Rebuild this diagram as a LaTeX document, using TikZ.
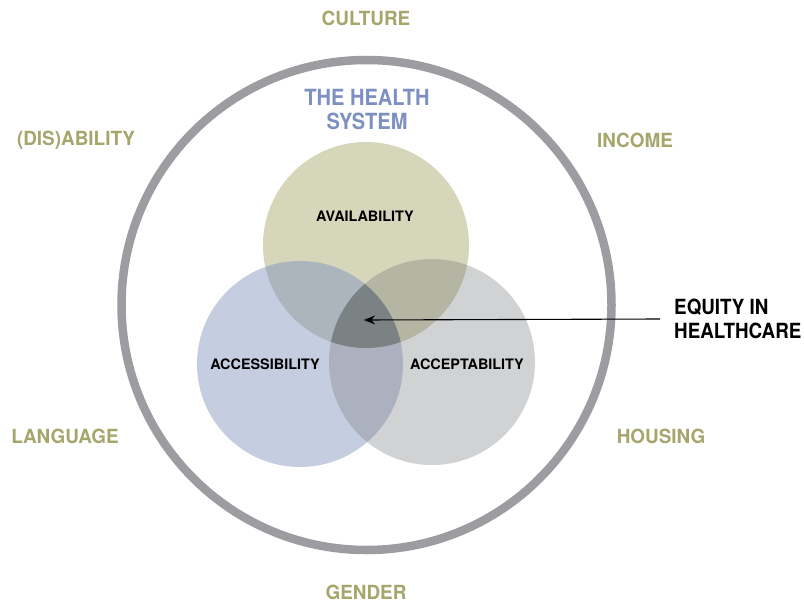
\documentclass[tikz,border=0pt]{standalone}
\usepackage{fontspec}
\setmainfont{TeX Gyre Heros}
\newfontfamily\condfont{TeX Gyre Heros}[FakeStretch=0.9]
\newfontfamily\semifont{TeX Gyre Heros}[FakeStretch=0.97]
\usetikzlibrary{arrows.meta}
\definecolor{olivetxt}{HTML}{A4A66B}
\definecolor{bluetxt}{HTML}{7D90C2}
\definecolor{ringcol}{HTML}{9C9CA1}
\definecolor{availcol}{HTML}{D6D6BA}
\definecolor{accesscol}{HTML}{C5CDE1}
\definecolor{acceptcol}{HTML}{D1D2D4}
\definecolor{avacc}{HTML}{ADB5BC}
\definecolor{avacp}{HTML}{B5B5A3}
\definecolor{acacp}{HTML}{ACB1BF}
\definecolor{triple}{HTML}{7A8283}
\tikzset{
  factor/.style={text=olivetxt, font=\semifont\fontsize{19.5}{22}\selectfont\bfseries, inner sep=0pt},
  inlabel/.style={text=black, font=\fontsize{14.4}{17}\selectfont\bfseries, inner sep=0pt},
  titlelabel/.style={text=bluetxt, font=\condfont\fontsize{22.3}{24}\selectfont\bfseries, align=center, inner sep=0pt},
  equitylabel/.style={text=black, font=\condfont\fontsize{20.9}{24}\selectfont\bfseries, align=left, inner sep=0pt},
  ringline/.style={draw=ringcol, line width=8.5pt},
  pointer/.style={draw=black, line width=1.1pt, -{Stealth[length=11pt,width=9pt]}}
}
\begin{document}
\begin{tikzpicture}[x=1pt,y=-1pt]
\useasboundingbox (0,0) rectangle (804,602);
% outer ring
\node[ringline, circle, minimum size=490pt, inner sep=0pt] (ring) at (366.5,305) {};
% circles
\def\avail{(366,245) circle[radius=103]}
\def\access{(300,364) circle[radius=103]}
\def\accept{(432,362) circle[radius=103]}
\fill[availcol] \avail;
\fill[accesscol] \access;
\fill[acceptcol] \accept;
\begin{scope}
  \clip \avail;
  \fill[avacc] \access;
  \fill[avacp] \accept;
\end{scope}
\begin{scope}
  \clip \access;
  \fill[acacp] \accept;
\end{scope}
\begin{scope}
  \clip \avail;
  \clip \access;
  \fill[triple] \accept;
\end{scope}
% labels
\node[factor] (culture) at (366,18) {CULTURE};
\node[factor] (disab) at (76,140) {(DIS)ABILITY};
\node[factor] (income) at (635,140) {INCOME};
\node[factor] (language) at (65,436) {LANGUAGE};
\node[factor] (housing) at (661,436) {HOUSING};
\node[factor] (gender) at (366,592) {GENDER};
\node[titlelabel] (title) at (367,110) {THE HEALTH\\SYSTEM};
\node[inlabel] (availability) at (365,216) {AVAILABILITY};
\node[inlabel] (accessibility) at (265,364) {ACCESSIBILITY};
\node[inlabel] (acceptability) at (467,364) {ACCEPTABILITY};
\node[equitylabel, anchor=west] (equity) at (674,319) {EQUITY IN\\HEALTHCARE};
\coordinate (centre) at (364,320);
\draw[pointer] ([xshift=-14pt]equity.west) -- (centre);
\end{tikzpicture}
\end{document}
